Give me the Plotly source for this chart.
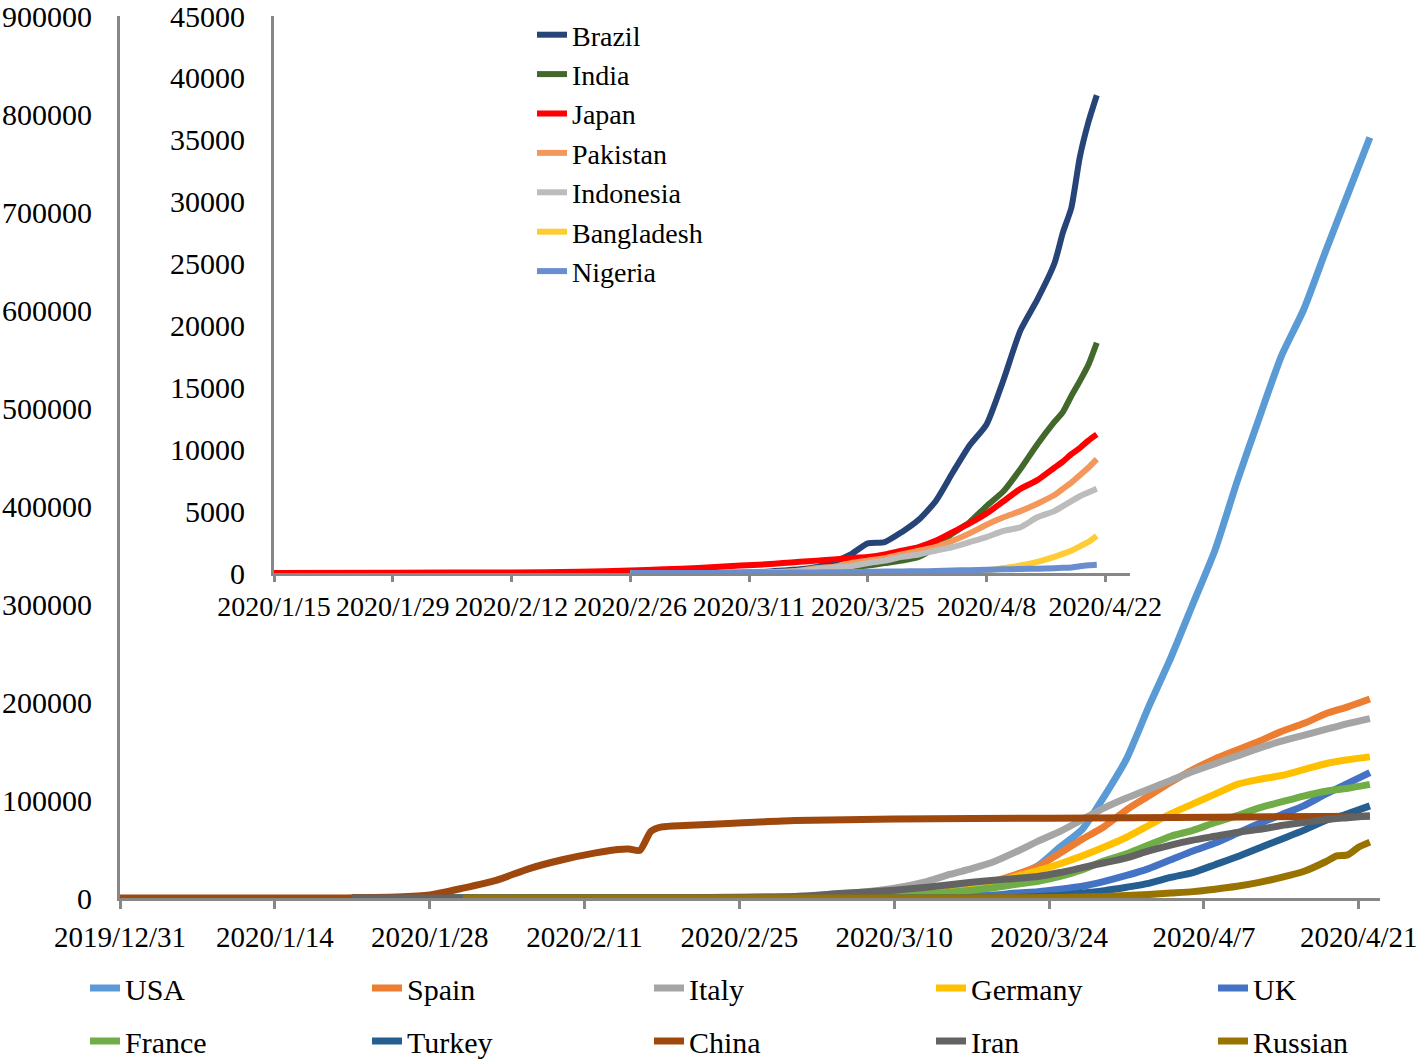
import plotly.graph_objects as go

FONT = "Liberation Serif"
AXIS_GRAY = "#878787"

# ---------------- main chart data ----------------
main_dates = ["2020-03-01", "2020-03-05", "2020-03-10", "2020-03-13", "2020-03-15", "2020-03-17",
              "2020-03-19", "2020-03-21", "2020-03-23", "2020-03-25", "2020-03-27", "2020-03-29",
              "2020-03-31", "2020-04-02", "2020-04-04", "2020-04-06", "2020-04-08", "2020-04-10",
              "2020-04-12", "2020-04-14", "2020-04-16", "2020-04-18", "2020-04-20", "2020-04-22"]

usa     = [0, 200, 1000, 2000, 3000, 6000, 12000, 22000, 33000, 52000, 70000, 104000,
           142000, 195000, 245000, 300000, 355000, 425000, 490000, 553000, 600000, 660000, 718000, 776000]
spain   = [0, 300, 1500, 4000, 7000, 11000, 17000, 24000, 32000, 46000, 60000, 73000,
           90000, 104000, 118000, 131000, 142000, 151000, 160000, 170000, 178000, 188000, 195000, 203000]
italy   = [1500, 4000, 10000, 17000, 24000, 30000, 37000, 47000, 58000, 68000, 80000, 92000,
           102000, 111000, 120000, 129000, 137000, 145000, 153000, 160000, 166000, 172000, 178000, 183000]
germany = [100, 400, 1500, 3500, 6000, 9000, 15000, 22000, 28000, 35000, 43000, 52000,
           62000, 74000, 86000, 96000, 106000, 116000, 121000, 125000, 131000, 137000, 141000, 144000]
uk      = [0, 100, 300, 800, 1200, 2000, 3000, 5000, 6500, 9000, 12000, 17000,
           23000, 30000, 39000, 48000, 56000, 66000, 76000, 85000, 94000, 106000, 117000, 128000]
france  = [100, 400, 1800, 4000, 6000, 8000, 10500, 14000, 17000, 22000, 29000, 38000,
           45000, 54000, 63000, 69000, 77000, 84000, 92000, 98000, 104000, 109000, 112000, 116000]
turkey  = [0, 0, 0, 0, 0, 50, 150, 500, 1500, 2500, 5000, 7500,
           11000, 15000, 21000, 26000, 34000, 42000, 51000, 60000, 69000, 79000, 86000, 94000]
iran    = [1500, 4500, 8000, 11000, 13500, 16000, 18000, 20000, 22000, 26000, 31000, 36000,
           41000, 48000, 54000, 59000, 63000, 67000, 70000, 74000, 77000, 80000, 82000, 84000]

russia_dates = ["2020-01-31", "2020-03-15", "2020-03-25", "2020-03-27", "2020-03-29", "2020-03-31",
                "2020-04-02", "2020-04-04", "2020-04-06", "2020-04-08", "2020-04-10", "2020-04-12",
                "2020-04-14", "2020-04-16", "2020-04-18", "2020-04-19", "2020-04-20", "2020-04-21",
                "2020-04-22"]
russia = [0, 50, 600, 1000, 1500, 2500, 3500, 5000, 6500, 9000, 12000, 16000,
          21000, 27000, 37000, 43000, 44000, 52000, 57000]

china_dates = ["2019-12-31", "2020-01-20", "2020-01-22", "2020-01-25", "2020-01-28", "2020-01-31",
               "2020-02-03", "2020-02-06", "2020-02-09", "2020-02-12", "2020-02-14", "2020-02-15",
               "2020-02-16", "2020-02-17", "2020-02-18", "2020-02-20", "2020-02-24", "2020-03-01",
               "2020-03-10", "2020-03-24", "2020-04-08", "2020-04-22"]
china = [0, 0, 500, 1000, 3000, 10000, 18000, 30000, 39000, 46000, 49500, 50000,
         48500, 68000, 72500, 74000, 76000, 79000, 80500, 81500, 82500, 83500]

france_start = "2020-01-24"
other_start = "2020-01-21"

main_series = [
    ("USA", "#5B9BD5", usa), ("Spain", "#ED7D31", spain), ("Italy", "#A5A5A5", italy),
    ("Germany", "#FFC000", germany), ("UK", "#4472C4", uk), ("France", "#70AD47", france),
    ("Turkey", "#255E91", turkey), ("China", "#9E480E", None), ("Iran", "#636363", iran),
    ("Russian", "#997300", None),
]

main_ticks = ["2019-12-31", "2020-01-14", "2020-01-28", "2020-02-11", "2020-02-25",
              "2020-03-10", "2020-03-24", "2020-04-07", "2020-04-21"]
main_ticktext = ["2019/12/31", "2020/1/14", "2020/1/28", "2020/2/11", "2020/2/25",
                 "2020/3/10", "2020/3/24", "2020/4/7", "2020/4/21"]

# ---------------- inset chart data ----------------
inset_dates = ["2020-02-26", "2020-03-01", "2020-03-05", "2020-03-10", "2020-03-13", "2020-03-15",
               "2020-03-17", "2020-03-19", "2020-03-21", "2020-03-23", "2020-03-25", "2020-03-27",
               "2020-03-29", "2020-03-31", "2020-04-02", "2020-04-04", "2020-04-06", "2020-04-08",
               "2020-04-10", "2020-04-12", "2020-04-14", "2020-04-16", "2020-04-17", "2020-04-18",
               "2020-04-19", "2020-04-20", "2020-04-21"]

brazil   = [0, 0, 0, 20, 100, 200, 300, 500, 900, 1500, 2400, 2500, 3300, 4300, 5800, 8100,
            10300, 12000, 15600, 19600, 22100, 25000, 27500, 29500, 33600, 36400, 38600]
india    = [0, 0, 10, 50, 80, 100, 150, 200, 300, 450, 600, 800, 1000, 1300, 2100, 3200,
            4100, 5400, 6600, 8400, 10400, 12200, 13000, 14300, 15500, 16800, 18600]
pakistan = [0, 0, 0, 20, 30, 50, 200, 400, 500, 800, 1000, 1200, 1500, 1800, 2100, 2600,
            3200, 3900, 4500, 5000, 5600, 6300, 6800, 7300, 7900, 8500, 9200]
indonesia = [0, 0, 0, 20, 50, 100, 170, 300, 450, 550, 800, 1000, 1300, 1500, 1800, 2100,
             2500, 2900, 3400, 3700, 4500, 5000, 5400, 5800, 6200, 6500, 6800]
bangladesh = [0, 0, 0, 0, 0, 0, 10, 20, 30, 30, 40, 50, 50, 60, 60, 70,
              100, 200, 400, 600, 900, 1300, 1550, 1800, 2150, 2500, 3000]
nigeria  = [0, 0, 0, 10, 20, 30, 40, 50, 60, 80, 100, 120, 130, 140, 160, 200,
            230, 260, 300, 320, 350, 390, 420, 450, 550, 620, 660]

japan_dates = ["2020-01-15", "2020-01-29", "2020-02-12", "2020-02-20", "2020-02-26", "2020-03-01",
               "2020-03-05", "2020-03-10", "2020-03-13", "2020-03-15", "2020-03-17", "2020-03-19",
               "2020-03-21", "2020-03-23", "2020-03-25", "2020-03-27", "2020-03-29", "2020-03-31",
               "2020-04-02", "2020-04-04", "2020-04-06", "2020-04-08", "2020-04-10", "2020-04-12",
               "2020-04-14", "2020-04-16", "2020-04-17", "2020-04-18", "2020-04-19", "2020-04-20",
               "2020-04-21"]
japan = [10, 20, 50, 100, 200, 300, 400, 600, 700, 800, 900, 1000, 1100, 1200, 1300, 1500,
         1800, 2100, 2600, 3300, 4000, 4800, 5800, 6800, 7500, 8500, 9000, 9600, 10100, 10700, 11200]

inset_series = [
    ("Brazil", "#264478", brazil), ("India", "#43682B", india), ("Japan", "#FF0000", None),
    ("Pakistan", "#F4975A", pakistan), ("Indonesia", "#BCBCBC", indonesia),
    ("Bangladesh", "#FFCC33", bangladesh), ("Nigeria", "#698ED0", nigeria),
]

inset_ticks = ["2020-01-15", "2020-01-29", "2020-02-12", "2020-02-26", "2020-03-11",
               "2020-03-25", "2020-04-08", "2020-04-22"]
inset_ticktext = ["2020/1/15", "2020/1/29", "2020/2/12", "2020/2/26", "2020/3/11",
                  "2020/3/25", "2020/4/8", "2020/4/22"]

W, H = 1418, 1059

fig = go.Figure()

for i, (name, color, vals) in enumerate(main_series):
    if name == "China":
        xs, ys = china_dates, china
    elif name == "Russian":
        xs, ys = russia_dates, russia
    else:
        start = france_start if name == "France" else other_start
        xs, ys = [start] + main_dates, [0] + vals
    fig.add_trace(go.Scatter(
        x=xs, y=ys, name=name, mode="lines",
        line=dict(color=color, width=7, shape="spline", smoothing=0.6),
        xaxis="x", yaxis="y",
        legend="legend2" if i < 5 else "legend3",
    ))

for name, color, vals in inset_series:
    if name == "Japan":
        xs, ys = japan_dates, japan
    else:
        xs, ys = inset_dates, vals
    fig.add_trace(go.Scatter(
        x=xs, y=ys, name=name, mode="lines",
        line=dict(color=color, width=6, shape="spline", smoothing=0.6),
        xaxis="x2", yaxis="y2", legend="legend",
    ))


def px_x(p):
    return p / W


def px_y(p):
    return 1 - p / H


def font(sz):
    return dict(family=FONT, size=sz, color="black")


common_axis = dict(showgrid=False, zeroline=False, showline=True, linecolor=AXIS_GRAY,
                   linewidth=3, tickangle=0, ticklabeloverflow="allow")

fig.update_layout(
    width=W, height=H,
    margin=dict(l=0, r=0, t=0, b=0, pad=0, autoexpand=False),
    paper_bgcolor="white", plot_bgcolor="rgba(0,0,0,0)",
    font=font(28),
    xaxis=dict(
        domain=[px_x(120), px_x(1380)], anchor="y",
        type="date", range=["2019-12-31", "2020-04-22 22:00"],
        tickvals=main_ticks, ticktext=main_ticktext,
        ticks="outside", ticklen=8, tickwidth=2.5, tickcolor=AXIS_GRAY,
        ticklabelstandoff=3, tickfont=font(29), **common_axis,
    ),
    yaxis=dict(
        domain=[px_y(898), px_y(16)], anchor="x",
        range=[0, 900000], tickvals=[i * 100000 for i in range(10)],
        tickformat="d", ticks="", ticklabelstandoff=19, tickfont=font(30), **common_axis,
    ),
    xaxis2=dict(
        domain=[px_x(274), px_x(1130)], anchor="y2",
        type="date", range=["2020-01-15", "2020-04-24 22:00"],
        tickvals=inset_ticks, ticktext=inset_ticktext,
        ticks="outside", ticklen=6, tickwidth=2.5, tickcolor=AXIS_GRAY,
        ticklabelstandoff=0, tickfont=font(28), **common_axis,
    ),
    yaxis2=dict(
        domain=[px_y(573), px_y(16)], anchor="x2",
        range=[0, 45000], tickvals=[i * 5000 for i in range(10)],
        tickformat="d", ticks="", ticklabelstandoff=20, tickfont=font(30), **common_axis,
    ),
    legend=dict(
        x=px_x(532), y=px_y(10), xanchor="left", yanchor="top",
        orientation="v", font=font(28),
        bgcolor="rgba(0,0,0,0)", borderwidth=0, tracegroupgap=0,
    ),
    legend2=dict(
        x=px_x(85), y=px_y(962), xanchor="left", yanchor="top",
        orientation="h", entrywidth=237, entrywidthmode="pixels",
        font=font(30), bgcolor="rgba(0,0,0,0)", borderwidth=0,
    ),
    legend3=dict(
        x=px_x(85), y=px_y(1015), xanchor="left", yanchor="top",
        orientation="h", entrywidth=237, entrywidthmode="pixels",
        font=font(30), bgcolor="rgba(0,0,0,0)", borderwidth=0,
    ),
)

# remove the default 8px page margin so the figure sits at the window's corner
fig.write_html(
    "out.html",
    config={"displayModeBar": False},
    post_script="document.body.style.margin='0';document.body.style.overflow='hidden';",
)
